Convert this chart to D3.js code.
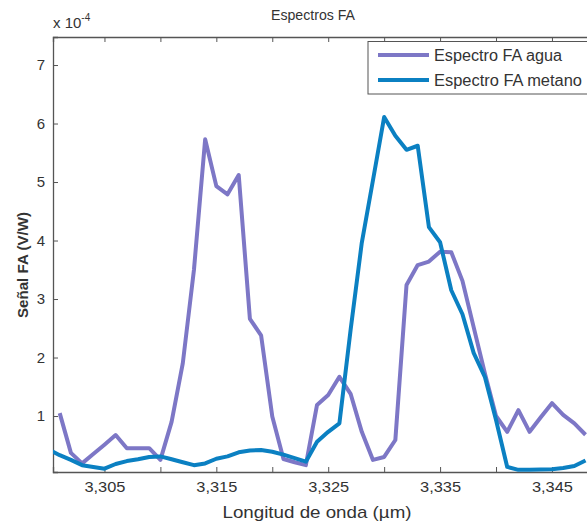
<!DOCTYPE html>
<html>
<head>
<meta charset="utf-8">
<script src="https://cdn.jsdelivr.net/npm/d3@7"></script>
<style>
  html, body { margin: 0; padding: 0; background: #fff; }
  svg text { font-family: "Liberation Sans", Arial, sans-serif; fill: #333; }
</style>
</head>
<body>
<svg id="chart" width="587" height="528"></svg>
<script>
// Wavelengths (µm) for each spectrum
const lambdaAgua = d3.range(3.301, 3.3485, 0.001).map(v => +v.toFixed(3));
const lambdaMetano = d3.range(3.300, 3.3485, 0.001).map(v => +v.toFixed(3));

// Photoacoustic signal, in units of 1e-4 V/W
const faAgua = [1.05, 0.37, 0.19, 0.35, 0.51, 0.675, 0.45, 0.45, 0.45, 0.25,
  0.90, 1.90, 3.50, 5.73, 4.93, 4.79, 5.12, 2.66, 2.38, 0.99,
  0.265, 0.21, 0.16, 1.19, 1.36, 1.67, 1.38, 0.73, 0.25, 0.30,
  0.59, 3.24, 3.58, 3.64, 3.81, 3.80, 3.31, 2.52, 1.73, 1.00,
  0.73, 1.10, 0.73, 0.98, 1.22, 1.02, 0.875, 0.68];
const faMetano = [0.43, 0.33, 0.25, 0.16, 0.13, 0.10, 0.18, 0.23, 0.26, 0.30,
  0.31, 0.26, 0.21, 0.16, 0.19, 0.27, 0.31, 0.38, 0.41, 0.42,
  0.39, 0.34, 0.28, 0.22, 0.56, 0.73, 0.875, 2.47, 3.96, 5.03,
  6.11, 5.79, 5.55, 5.62, 4.23, 3.97, 3.15, 2.74, 2.08, 1.67,
  0.93, 0.13, 0.08, 0.08, 0.085, 0.09, 0.11, 0.145, 0.24];

const xTicks = [3.305, 3.310, 3.315, 3.320, 3.325, 3.330, 3.335, 3.340, 3.345];
const xTickLabels = ["3,305", "", "3,315", "", "3,325", "", "3,335", "", "3,345"];
const yTicks = [1, 2, 3, 4, 5, 6, 7];

const seriesNames = ["Espectro FA agua", "Espectro FA metano"];
const seriesColors = ["#7d77c6", "#0b80c2"];

const svg = d3.select("#chart");
const plotLeft = 53, plotRight = 590, plotTop = 37, plotBottom = 472;

const x = d3.scaleLinear().domain([3.3004, 3.3484]).range([plotLeft, plotRight]);
const y = d3.scaleLinear().domain([0.043, 7.479]).range([plotBottom, plotTop]);

const axisColor = "#555";

svg.append("defs").append("clipPath").attr("id", "plotClip")
  .append("rect").attr("x", plotLeft).attr("y", plotTop)
  .attr("width", plotRight - plotLeft).attr("height", plotBottom - plotTop);

// Axes: ticks point inward, frame on top as well
const xAxisB = d3.axisBottom(x).tickValues(xTicks).tickSize(-5)
  .tickFormat((d, i) => xTickLabels[i]).tickPadding(9);
const gxb = svg.append("g").attr("transform", `translate(0,${plotBottom})`).call(xAxisB);
const xAxisT = d3.axisTop(x).tickValues(xTicks).tickSize(-5).tickFormat("");
const gxt = svg.append("g").attr("transform", `translate(0,${plotTop})`).call(xAxisT);
const yAxisL = d3.axisLeft(y).tickValues(yTicks).tickSize(-5).tickPadding(8);
const gyl = svg.append("g").attr("transform", `translate(${plotLeft},0)`).call(yAxisL);

[gxb, gxt, gyl].forEach(g => {
  g.select(".domain").attr("stroke", axisColor).attr("stroke-width", 1.3);
  g.selectAll(".tick line").attr("stroke", axisColor).attr("stroke-width", 1);
  g.selectAll(".tick text").style("font-size", "15px").attr("fill", "#333")
    .style("font-family", "'Liberation Sans', Arial, sans-serif");
});
gxb.selectAll(".tick text").filter(function () { return this.textContent !== ""; })
  .attr("textLength", 41).attr("lengthAdjust", "spacingAndGlyphs");

// Spectra
const line = d3.line().x(d => x(d[0])).y(d => y(d[1]));
const plot = svg.append("g").attr("clip-path", "url(#plotClip)");
const series = [
  lambdaAgua.map((l, i) => [l, faAgua[i]]),
  lambdaMetano.map((l, i) => [l, faMetano[i]])
];
series.forEach((s, i) => {
  plot.append("path").datum(s)
    .attr("d", line)
    .attr("fill", "none")
    .attr("stroke", seriesColors[i])
    .attr("stroke-width", 4)
    .attr("stroke-linejoin", "round");
});

// Legend (box runs past the right edge of the view)
const lg = svg.append("g");
lg.append("rect").attr("x", 368).attr("y", 41.5).attr("width", 240).attr("height", 52.5)
  .attr("fill", "#fff").attr("stroke", axisColor).attr("stroke-width", 1);
seriesNames.forEach((name, i) => {
  const yy = 55 + i * 25;
  lg.append("line").attr("x1", 378).attr("x2", 429).attr("y1", yy).attr("y2", yy)
    .attr("stroke", seriesColors[i]).attr("stroke-width", 4);
  lg.append("text").attr("x", 434).attr("y", yy + 6)
    .style("font-size", "16px")
    .attr("textLength", i === 0 ? 128 : 148).attr("lengthAdjust", "spacingAndGlyphs")
    .text(name);
});

// Title and labels
svg.append("text").attr("x", 313).attr("y", 20).attr("text-anchor", "middle")
  .style("font-size", "14px").attr("textLength", 84).attr("lengthAdjust", "spacingAndGlyphs")
  .text("Espectros FA");
svg.append("text").attr("x", 317).attr("y", 518).attr("text-anchor", "middle")
  .style("font-size", "17px").attr("textLength", 189).attr("lengthAdjust", "spacingAndGlyphs")
  .text("Longitud de onda (µm)");
svg.append("text").attr("transform", "translate(28,265) rotate(-90)").attr("text-anchor", "middle")
  .style("font-size", "14.5px").style("font-weight", "bold")
  .attr("textLength", 106).attr("lengthAdjust", "spacingAndGlyphs")
  .text("Señal FA (V/W)");

// Exponent note
const ex = svg.append("text").attr("x", 53).attr("y", 28).style("font-size", "15px");
ex.append("tspan").text("x 10");
ex.append("tspan").attr("dy", -7).style("font-size", "10px").text("-4");
</script>
</body>
</html>
